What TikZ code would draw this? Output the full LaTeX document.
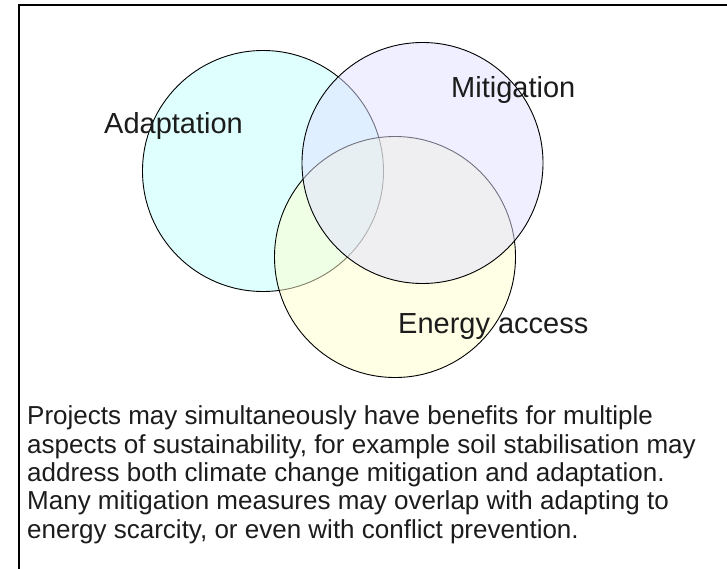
\documentclass[tikz,border=0pt]{standalone}
\usepackage{fontspec}
\setmainfont{Liberation Sans}
\begin{document}
\begin{tikzpicture}[x=1pt,y=-1pt,
  setcircle/.style={circle, draw=black, line width=0.9pt, minimum size=241pt, inner sep=0pt, fill opacity=0.5},
  setlabel/.style={anchor=base west, inner sep=0pt, text=txt, font=\fontsize{29}{33}\selectfont},
  bodytext/.style={anchor=base west, inner sep=0pt, text=txt, align=left, font=\fontsize{26}{28.3}\selectfont}]
  \definecolor{adaptfill}{RGB}{192,255,255}
  \definecolor{mitigfill}{RGB}{224,224,255}
  \definecolor{energyfill}{RGB}{255,255,204}
  \definecolor{txt}{RGB}{28,28,28}
  \useasboundingbox (0,0) rectangle (727,569);
  \fill[white] (0,0) rectangle (727,569);
  % frame: top and left edges
  \draw[line width=1.6pt] (19,569) -- (19,5) -- (727,5);
  % overlapping sets, drawn bottom to top
  \node[setcircle, fill=adaptfill]  (adapt)  at (263,171) {};
  \node[setcircle, fill=energyfill] (energy) at (395,257) {};
  \node[setcircle, fill=mitigfill]  (mitig)  at (422.5,163) {};
  % set labels
  \node[setlabel] (ladapt)  at (104,134) {Adaptation};
  \node[setlabel] (lmitig)  at (451,98)  {Mitigation};
  \node[setlabel] (lenergy) at (398,333) {Energy access};
  % caption (anchored at the baseline of its last line)
  \node[bodytext] (caption) at (27,538) {Projects may simultaneously have benefits for multiple\\
    aspects of sustainability, for example soil stabilisation may\\
    address both climate change mitigation and adaptation.\\
    Many mitigation measures may overlap with adapting to\\
    energy scarcity, or even with conflict prevention.};
\end{tikzpicture}
\end{document}
